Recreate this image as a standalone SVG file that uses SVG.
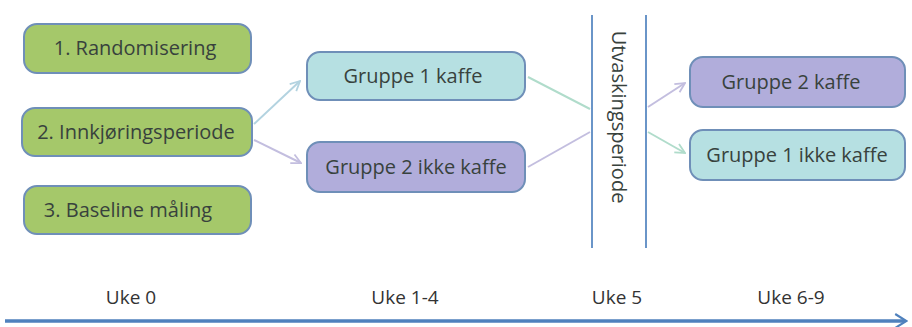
<svg xmlns="http://www.w3.org/2000/svg" width="912" height="327" viewBox="0 0 912 327">
<style>
.box{stroke:#6f8fb8;stroke-width:2}
.g{fill:#a5c86a}
.c{fill:#b6e0e2}
.p{fill:#b1addb}
text{font-family:"Open Sans","Noto Sans",sans-serif;font-size:20px;fill:#38423d}
.lbl{text-anchor:middle}
.ax{font-size:19px;fill:#333333}
.ln{fill:none;stroke-width:2}
</style>
<defs>
<marker id="ac" viewBox="0 0 10 10" refX="9" refY="5" markerWidth="12" markerHeight="12" markerUnits="userSpaceOnUse" orient="auto"><path d="M1,1 L9,5 L1,9" fill="none" stroke="#b3d3e0" stroke-width="1.5"/></marker>
<marker id="ap" viewBox="0 0 10 10" refX="9" refY="5" markerWidth="12" markerHeight="12" markerUnits="userSpaceOnUse" orient="auto"><path d="M1,1 L9,5 L1,9" fill="none" stroke="#c3bedf" stroke-width="1.5"/></marker>
<marker id="ag" viewBox="0 0 10 10" refX="9" refY="5" markerWidth="12" markerHeight="12" markerUnits="userSpaceOnUse" orient="auto"><path d="M1,1 L9,5 L1,9" fill="none" stroke="#b0dccb" stroke-width="1.5"/></marker>
<marker id="ab" viewBox="0 0 10 10" refX="8" refY="5" markerWidth="14" markerHeight="22" markerUnits="userSpaceOnUse" orient="auto"><path d="M1,0 L9,5 L1,10" fill="none" stroke="#4f81bd" stroke-width="1.5"/></marker>
</defs>
<rect width="912" height="327" fill="#ffffff"/>
<g id="connectors">
<line class="ln" x1="254" y1="124" x2="300" y2="81" stroke="#b3d3e0" marker-end="url(#ac)"/>
<line class="ln" x1="254" y1="140" x2="301" y2="163" stroke="#c3bedf" marker-end="url(#ap)"/>
<line class="ln" x1="528" y1="77" x2="590" y2="109" stroke="#b0dccb"/>
<line class="ln" x1="528" y1="167" x2="590" y2="132" stroke="#c3bedf"/>
<line class="ln" x1="648" y1="107" x2="685" y2="83" stroke="#c3bedf" marker-end="url(#ap)"/>
<line class="ln" x1="648" y1="132" x2="685" y2="153" stroke="#b0dccb" marker-end="url(#ag)"/>
<line x1="5" y1="321" x2="905" y2="321" stroke="#4f81bd" stroke-width="3.5" marker-end="url(#ab)"/>
</g>
<g id="n1"><rect class="box g" x="24" y="24" width="227" height="49" rx="13"/><text class="lbl" x="135" y="55">1. Randomisering</text></g>
<g id="n2"><rect class="box g" x="22" y="108" width="230" height="48" rx="13"/><text class="lbl" x="136" y="139">2. Innkjøringsperiode</text></g>
<g id="n3"><rect class="box g" x="24" y="186" width="227" height="48" rx="13"/><text class="lbl" x="128" y="217">3. Baseline måling</text></g>
<g id="n4"><rect class="box c" x="307" y="52" width="218" height="48" rx="13"/><text class="lbl" x="413" y="83">Gruppe 1 kaffe</text></g>
<g id="n5"><rect class="box p" x="307" y="142" width="218" height="50" rx="13"/><text class="lbl" x="416" y="174">Gruppe 2 ikke kaffe</text></g>
<g id="n6"><rect class="box p" x="690" y="57" width="215" height="50" rx="13"/><text class="lbl" x="791" y="89">Gruppe 2 kaffe</text></g>
<g id="n7"><rect class="box c" x="690" y="130" width="215" height="50" rx="13"/><text class="lbl" x="797" y="162">Gruppe 1 ikke kaffe</text></g>
<g id="washout">
<line x1="592" y1="15" x2="592" y2="248" stroke="#6a95c8" stroke-width="2"/>
<line x1="646" y1="15" x2="646" y2="248" stroke="#6a95c8" stroke-width="2"/>
<text class="lbl" transform="translate(612,117) rotate(90)">Utvaskingsperiode</text>
</g>
<g id="axis-labels">
<text class="ax lbl" x="131" y="304">Uke 0</text>
<text class="ax lbl" x="405" y="304">Uke 1-4</text>
<text class="ax lbl" x="617" y="304">Uke 5</text>
<text class="ax lbl" x="791" y="304">Uke 6-9</text>
</g>
</svg>
